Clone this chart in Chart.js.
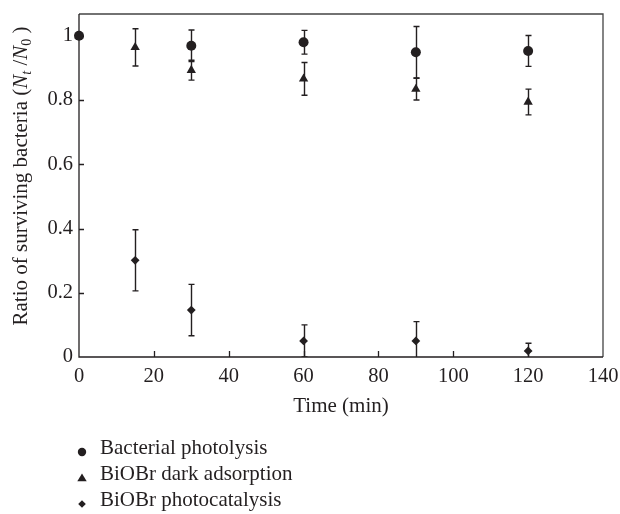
<!DOCTYPE html>
<html>
<head>
<meta charset="utf-8">
<script src="https://cdn.jsdelivr.net/npm/chart.js@4"></script>
<style>
  html, body { margin: 0; padding: 0; background: #fff; }
  #wrap { width: 620px; height: 514px; position: relative; }
</style>
</head>
<body>
<div id="wrap"><canvas id="c"></canvas></div>
<script>
// Sampling times (min) and surviving ratios Nt/N0 with their error (±)
const photolysisTime = [0, 30, 60, 90, 120];
const photolysisValue = [1.0, 0.969, 0.980, 0.949, 0.953];
const photolysisError = [0, 0.049, 0.037, 0.080, 0.048];

const darkTime = [0, 15, 30, 60, 90, 120];
const darkValue = [1.0, 0.964, 0.893, 0.866, 0.834, 0.794];
const darkError = [0, 0.058, 0.031, 0.051, 0.034, 0.040];

const catalysisTime = [0, 15, 30, 60, 90, 120];
const catalysisValue = [1.0, 0.301, 0.146, 0.050, 0.050, 0.019];
const catalysisError = [0, 0.095, 0.080, 0.050, 0.060, 0.024];

const seriesNames = ['Bacterial photolysis', 'BiOBr dark adsorption', 'BiOBr photocatalysis'];

const xTicks = [0, 20, 40, 60, 80, 100, 120, 140];
const yTicks = [0, 0.2, 0.4, 0.6, 0.8, 1];
const yTickLabels = ['0', '0.2', '0.4', '0.6', '0.8', '1'];

const SERIF = '"Liberation Serif", "DejaVu Serif", serif';
const INK = '#231f20';

function points(xs, ys, es) {
  return xs.map((x, i) => ({ x: x, y: ys[i], err: es[i] }));
}

// vertical error bars with caps, drawn under the markers
const errorBars = {
  id: 'errorBars',
  beforeDatasetsDraw(chart) {
    const { ctx, chartArea, scales: { x, y } } = chart;
    ctx.save();
    ctx.beginPath();
    ctx.rect(chartArea.left - 10, chartArea.top - 10, chartArea.width + 20, chartArea.bottom - chartArea.top + 10);
    ctx.clip();
    ctx.strokeStyle = INK;
    ctx.lineWidth = 1.4;
    chart.data.datasets.forEach(ds => {
      ds.data.forEach(p => {
        if (!p.err) return;
        const px = Math.round(x.getPixelForValue(p.x)) + 0.5;
        const top = y.getPixelForValue(p.y + p.err);
        const bot = y.getPixelForValue(p.y - p.err);
        const cap = 3;
        ctx.beginPath();
        ctx.moveTo(px, top); ctx.lineTo(px, bot);
        ctx.moveTo(px - cap, top); ctx.lineTo(px + cap, top);
        if (p.y - p.err >= 0) { ctx.moveTo(px - cap, bot); ctx.lineTo(px + cap, bot); }
        ctx.stroke();
      });
    });
    ctx.restore();
  }
};

// framed plot box with inward tick marks
const frame = {
  id: 'frame',
  beforeDatasetsDraw(chart) {
    const { ctx, chartArea: a, scales: { x, y } } = chart;
    ctx.save();
    ctx.lineWidth = 1.3;
    ctx.strokeStyle = '#444';
    ctx.beginPath();
    ctx.moveTo(a.left, a.top); ctx.lineTo(a.right, a.top); ctx.lineTo(a.right, a.bottom);
    ctx.stroke();
    ctx.strokeStyle = INK;
    ctx.beginPath();
    ctx.moveTo(a.left, a.top); ctx.lineTo(a.left, a.bottom); ctx.lineTo(a.right, a.bottom);
    ctx.stroke();
    ctx.beginPath();
    xTicks.forEach(v => {
      if (v === xTicks[0] || v === xTicks[xTicks.length - 1]) return;
      const px = Math.round(x.getPixelForValue(v)) + 0.5;
      ctx.moveTo(px, a.bottom); ctx.lineTo(px, a.bottom - 6);
    });
    yTicks.forEach(v => {
      if (v === 0) return;
      const py = Math.round(y.getPixelForValue(v)) + 0.5;
      ctx.moveTo(a.left, py); ctx.lineTo(a.left + 5, py);
    });
    ctx.stroke();
    ctx.restore();
  }
};

// rotated y title with italic N and subscripts
const yTitle = {
  id: 'yTitle',
  afterDraw(chart) {
    const { ctx } = chart;
    const big = 21, small = 14;
    const parts = [
      { t: 'Ratio of surviving bacteria (', f: big + 'px ' + SERIF, dy: 0 },
      { t: 'N', f: 'italic ' + big + 'px ' + SERIF, dy: 0 },
      { t: 't', f: 'italic ' + small + 'px ' + SERIF, dy: 4 },
      { t: ' /', f: big + 'px ' + SERIF, dy: 0 },
      { t: 'N', f: 'italic ' + big + 'px ' + SERIF, dy: 0 },
      { t: '0', f: small + 'px ' + SERIF, dy: 4 },
      { t: ' )', f: big + 'px ' + SERIF, dy: 0 }
    ];
    ctx.save();
    let total = 0;
    parts.forEach(p => { ctx.font = p.f; p.w = ctx.measureText(p.t).width; total += p.w; });
    ctx.translate(27, 176);
    ctx.rotate(-Math.PI / 2);
    ctx.fillStyle = INK;
    ctx.textBaseline = 'alphabetic';
    let cx = -total / 2;
    parts.forEach(p => { ctx.font = p.f; ctx.fillText(p.t, cx, p.dy); cx += p.w; });
    ctx.restore();
  }
};

// stacked legend below the x-axis title
const stackedLegend = {
  id: 'stackedLegend',
  afterDraw(chart) {
    const { ctx } = chart;
    const rows = [452, 478, 504];
    ctx.save();
    chart.data.datasets.forEach((ds, i) => {
      const cx = 82, cy = rows[i];
      ctx.fillStyle = INK;
      ctx.beginPath();
      if (ds.pointStyle === 'circle') {
        ctx.arc(cx, cy, 4.2, 0, Math.PI * 2);
      } else if (ds.pointStyle === 'triangle') {
        ctx.moveTo(cx, cy - 4.5); ctx.lineTo(cx + 4.7, cy + 3.2); ctx.lineTo(cx - 4.7, cy + 3.2); ctx.closePath();
      } else {
        ctx.moveTo(cx, cy - 3.8); ctx.lineTo(cx + 3.8, cy); ctx.lineTo(cx, cy + 3.8); ctx.lineTo(cx - 3.8, cy); ctx.closePath();
      }
      ctx.fill();
      ctx.font = '21px ' + SERIF;
      ctx.textBaseline = 'alphabetic';
      ctx.fillText(ds.label, 100, rows[i] + 2);
    });
    ctx.restore();
  }
};

const markerStyle = (style, r) => ({
  pointStyle: style,
  pointRadius: r,
  pointHoverRadius: r,
  backgroundColor: INK,
  borderColor: INK,
  borderWidth: 0,
  showLine: false,
  clip: false
});

new Chart(document.getElementById('c'), {
  type: 'scatter',
  data: {
    datasets: [
      Object.assign({ label: seriesNames[0], data: points(photolysisTime, photolysisValue, photolysisError) }, markerStyle('circle', 5)),
      Object.assign({ label: seriesNames[1], data: points(darkTime, darkValue, darkError) }, markerStyle('triangle', 5.4)),
      Object.assign({ label: seriesNames[2], data: points(catalysisTime, catalysisValue, catalysisError) }, markerStyle('rectRot', 4.4))
    ]
  },
  options: {
    responsive: true,
    maintainAspectRatio: false,
    animation: false,
    events: [],
    layout: { padding: { left: 0, top: 14, right: 17, bottom: 91 } },
    plugins: { legend: { display: false }, tooltip: { enabled: false } },
    scales: {
      x: {
        type: 'linear', min: 0, max: 140,
        grid: { display: false, drawTicks: false },
        border: { display: false },
        afterFit(s) { s.height = 66; s.paddingLeft = 0; s.paddingRight = 0; },
        afterBuildTicks(s) { s.ticks = xTicks.map(v => ({ value: v })); },
        ticks: { padding: 7, color: INK, font: { family: SERIF, size: 20.5 }, maxRotation: 0, autoSkip: false },
        title: { display: true, text: 'Time (min)', color: INK, font: { family: SERIF, size: 21 }, padding: { top: 9, bottom: 4 } }
      },
      y: {
        type: 'linear', min: 0, max: 1.068,
        grid: { display: false, drawTicks: false },
        border: { display: false },
        afterFit(s) { s.width = 79; s.paddingTop = 0; s.paddingBottom = 0; },
        afterBuildTicks(s) { s.ticks = yTicks.map(v => ({ value: v })); },
        ticks: {
          padding: 6, color: INK, font: { family: SERIF, size: 20.5 }, autoSkip: false,
          callback(v) { const i = yTicks.indexOf(v); return i >= 0 ? yTickLabels[i] : ''; }
        }
      }
    }
  },
  plugins: [frame, errorBars, yTitle, stackedLegend]
});
</script>
</body>
</html>
